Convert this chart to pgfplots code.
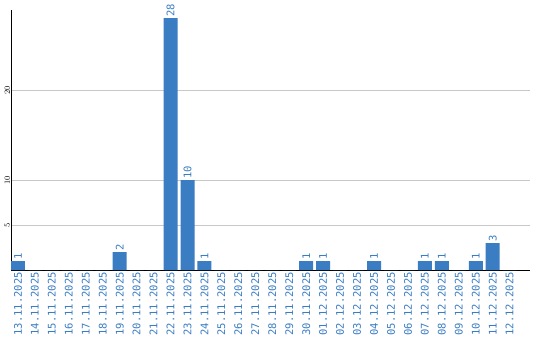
\documentclass[border=0pt]{standalone}
\usepackage{pgfplots}
\pgfplotsset{compat=1.18}
\usepackage{fontspec}
\setmainfont{DejaVu Sans}
\setmonofont{DejaVu Sans Mono}
\definecolor{barblue}{RGB}{58,125,195}
\definecolor{gridgray}{RGB}{200,200,200}
\begin{document}
\begin{tikzpicture}
\useasboundingbox (-11pt,-70pt) rectangle (529pt,270pt);
\begin{axis}[
  scale only axis,
  width=519pt, height=260pt,
  xmin=-0.41, xmax=30.2,
  ymin=0, ymax=28.9,
  axis lines*=left,
  axis line style={black, line width=1pt, -},
  ybar, bar width=14pt,
  bar shift=0pt,
  ytick={5,10,20},
  ymajorgrids,
  grid style={gridgray, line width=0.8pt},
  major tick length=0pt,
  yticklabel style={rotate=90, font=\ttfamily\fontsize{8.5}{9}\selectfont, black, anchor=south, inner sep=1pt},
  xtick=data,
  xticklabels={13.11.2025,14.11.2025,15.11.2025,16.11.2025,17.11.2025,18.11.2025,19.11.2025,20.11.2025,21.11.2025,22.11.2025,23.11.2025,24.11.2025,25.11.2025,26.11.2025,27.11.2025,28.11.2025,29.11.2025,30.11.2025,01.12.2025,02.12.2025,03.12.2025,04.12.2025,05.12.2025,06.12.2025,07.12.2025,08.12.2025,09.12.2025,10.12.2025,11.12.2025,12.12.2025},
  xticklabel style={rotate=90, anchor=east, font=\ttfamily\fontsize{10.5}{12}\selectfont, text=barblue, inner sep=2pt},
  nodes near coords={\pgfplotspointmeta},
  nodes near coords style={rotate=90, anchor=west, font=\ttfamily\fontsize{10.5}{12}\selectfont, text=barblue, inner sep=1pt},
  point meta=explicit symbolic,
]
\addplot[fill=barblue, draw=none] table[meta=lbl] {
x y lbl
0 1 1
1 0 {}
2 0 {}
3 0 {}
4 0 {}
5 0 {}
6 2 2
7 0 {}
8 0 {}
9 28 28
10 10 10
11 1 1
12 0 {}
13 0 {}
14 0 {}
15 0 {}
16 0 {}
17 1 1
18 1 1
19 0 {}
20 0 {}
21 1 1
22 0 {}
23 0 {}
24 1 1
25 1 1
26 0 {}
27 1 1
28 3 3
29 0 {}
};
\end{axis}
\end{tikzpicture}
\end{document}
